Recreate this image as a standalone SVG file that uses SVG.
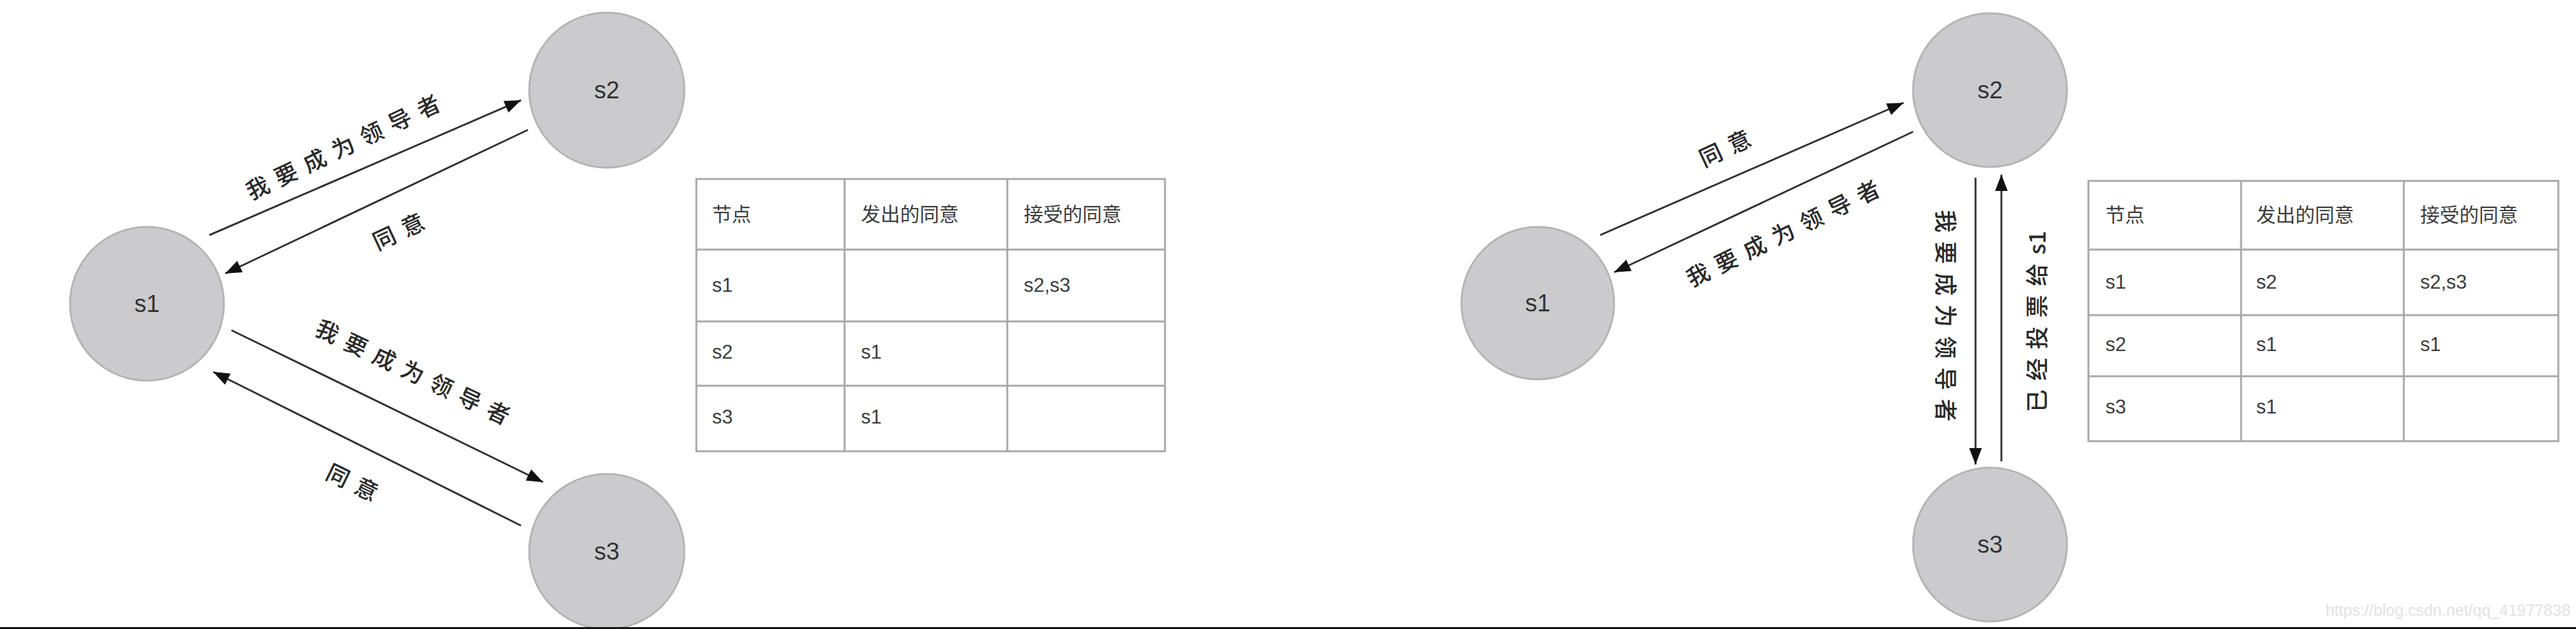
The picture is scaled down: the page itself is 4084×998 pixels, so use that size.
<svg xmlns="http://www.w3.org/2000/svg" width="4084" height="998" viewBox="0 0 4084 998">
<style>
.node circle{fill:#cbcbcd;stroke:#b4b4b7;stroke-width:3}
.node text{font-family:"Liberation Sans","Noto Sans",sans-serif;font-size:38px;fill:#333;text-anchor:middle;dominant-baseline:central}
.conn line{stroke:#333;stroke-width:3;fill:none}
.lbl{font-family:"Noto Sans CJK SC","Liberation Sans",sans-serif;font-size:36px;font-weight:500;fill:#2a2a2a;text-anchor:middle;dominant-baseline:central;letter-spacing:14px}
.tbl rect,.tbl line{stroke:#a8a8a8;stroke-width:3;fill:none}
.tbl text{font-family:"Liberation Sans","Noto Sans CJK SC",sans-serif;font-size:31px;fill:#3c3c3c;dominant-baseline:central}
.wm{font-family:"Liberation Sans",sans-serif;font-size:26px;fill:#e2e2e2}
</style>
<defs>
<marker id="ah" markerUnits="userSpaceOnUse" markerWidth="28" markerHeight="22" refX="26" refY="10" orient="auto">
<path d="M0,0 L26,10 L0,20 z" fill="#111"/>
</marker>
</defs>
<rect width="4084" height="998" fill="#fff"/>

<!-- Left diagram nodes -->
<g id="L-s1" class="node"><circle cx="233" cy="482" r="122"/><text x="233" y="482">s1</text></g>
<g id="L-s2" class="node"><circle cx="962" cy="143" r="123"/><text x="962" y="143">s2</text></g>
<g id="L-s3" class="node"><circle cx="962" cy="875" r="123"/><text x="962" y="875">s3</text></g>

<!-- Right diagram nodes -->
<g id="R-s1" class="node"><circle cx="2438" cy="481" r="121"/><text x="2438" y="481">s1</text></g>
<g id="R-s2" class="node"><circle cx="3155" cy="143" r="122"/><text x="3155" y="143">s2</text></g>
<g id="R-s3" class="node"><circle cx="3155" cy="864" r="122"/><text x="3155" y="864">s3</text></g>

<!-- Connectors -->
<g id="connectors" class="conn">
<line x1="332" y1="373" x2="826" y2="159" marker-end="url(#ah)"/>
<line x1="837" y1="206" x2="357" y2="434" marker-end="url(#ah)"/>
<line x1="367" y1="524" x2="861" y2="765" marker-end="url(#ah)"/>
<line x1="826" y1="834" x2="338" y2="590" marker-end="url(#ah)"/>
<line x1="2537" y1="373" x2="3018" y2="163" marker-end="url(#ah)"/>
<line x1="3033" y1="209" x2="2559" y2="432" marker-end="url(#ah)"/>
<line x1="3132" y1="282" x2="3132" y2="737" marker-end="url(#ah)"/>
<line x1="3173" y1="732" x2="3173" y2="277" marker-end="url(#ah)"/>
</g>

<!-- Connector labels -->
<g id="labels">
<text class="lbl" transform="translate(549,228) rotate(-25.5)">我要成为领导者</text>
<text class="lbl" transform="translate(637,362) rotate(-25)">同意</text>
<text class="lbl" transform="translate(662,591) rotate(25.5)">我要成为领导者</text>
<text class="lbl" transform="translate(566,766) rotate(26)">同意</text>
<text class="lbl" transform="translate(2740,230) rotate(-25)">同意</text>
<text class="lbl" transform="translate(2832,365) rotate(-26)">我要成为领导者</text>
<text class="lbl" transform="translate(3087,508) rotate(90)">我要成为领导者</text>
<text class="lbl" transform="translate(3227,510) rotate(-90)">已经投票给<tspan letter-spacing="0">s1</tspan></text>
</g>

<!-- Left table -->
<g id="L-table" class="tbl">
<rect x="1104" y="284" width="743" height="432"/>
<line x1="1104" y1="396" x2="1847" y2="396"/>
<line x1="1104" y1="510" x2="1847" y2="510"/>
<line x1="1104" y1="612" x2="1847" y2="612"/>
<line x1="1339" y1="284" x2="1339" y2="716"/>
<line x1="1597" y1="284" x2="1597" y2="716"/>
<text x="1129" y="340">节点</text>
<text x="1365" y="340">发出的同意</text>
<text x="1623" y="340">接受的同意</text>
<text x="1129" y="452">s1</text>
<text x="1623" y="452">s2,s3</text>
<text x="1129" y="558">s2</text>
<text x="1365" y="558">s1</text>
<text x="1129" y="661">s3</text>
<text x="1365" y="661">s1</text>
</g>

<!-- Right table -->
<g id="R-table" class="tbl">
<rect x="3311" y="287" width="745" height="413"/>
<line x1="3311" y1="396" x2="4056" y2="396"/>
<line x1="3311" y1="500" x2="4056" y2="500"/>
<line x1="3311" y1="597" x2="4056" y2="597"/>
<line x1="3553" y1="287" x2="3553" y2="700"/>
<line x1="3811" y1="287" x2="3811" y2="700"/>
<text x="3338" y="341">节点</text>
<text x="3577" y="341">发出的同意</text>
<text x="3837" y="341">接受的同意</text>
<text x="3338" y="447">s1</text>
<text x="3577" y="447">s2</text>
<text x="3837" y="447">s2,s3</text>
<text x="3338" y="546">s2</text>
<text x="3577" y="546">s1</text>
<text x="3837" y="546">s1</text>
<text x="3338" y="645">s3</text>
<text x="3577" y="645">s1</text>
</g>

<text class="wm" x="3687" y="977" textLength="388" lengthAdjust="spacingAndGlyphs">https://blog.csdn.net/qq_41977838</text>
<rect x="0" y="995" width="4084" height="3" fill="#111"/>
</svg>
